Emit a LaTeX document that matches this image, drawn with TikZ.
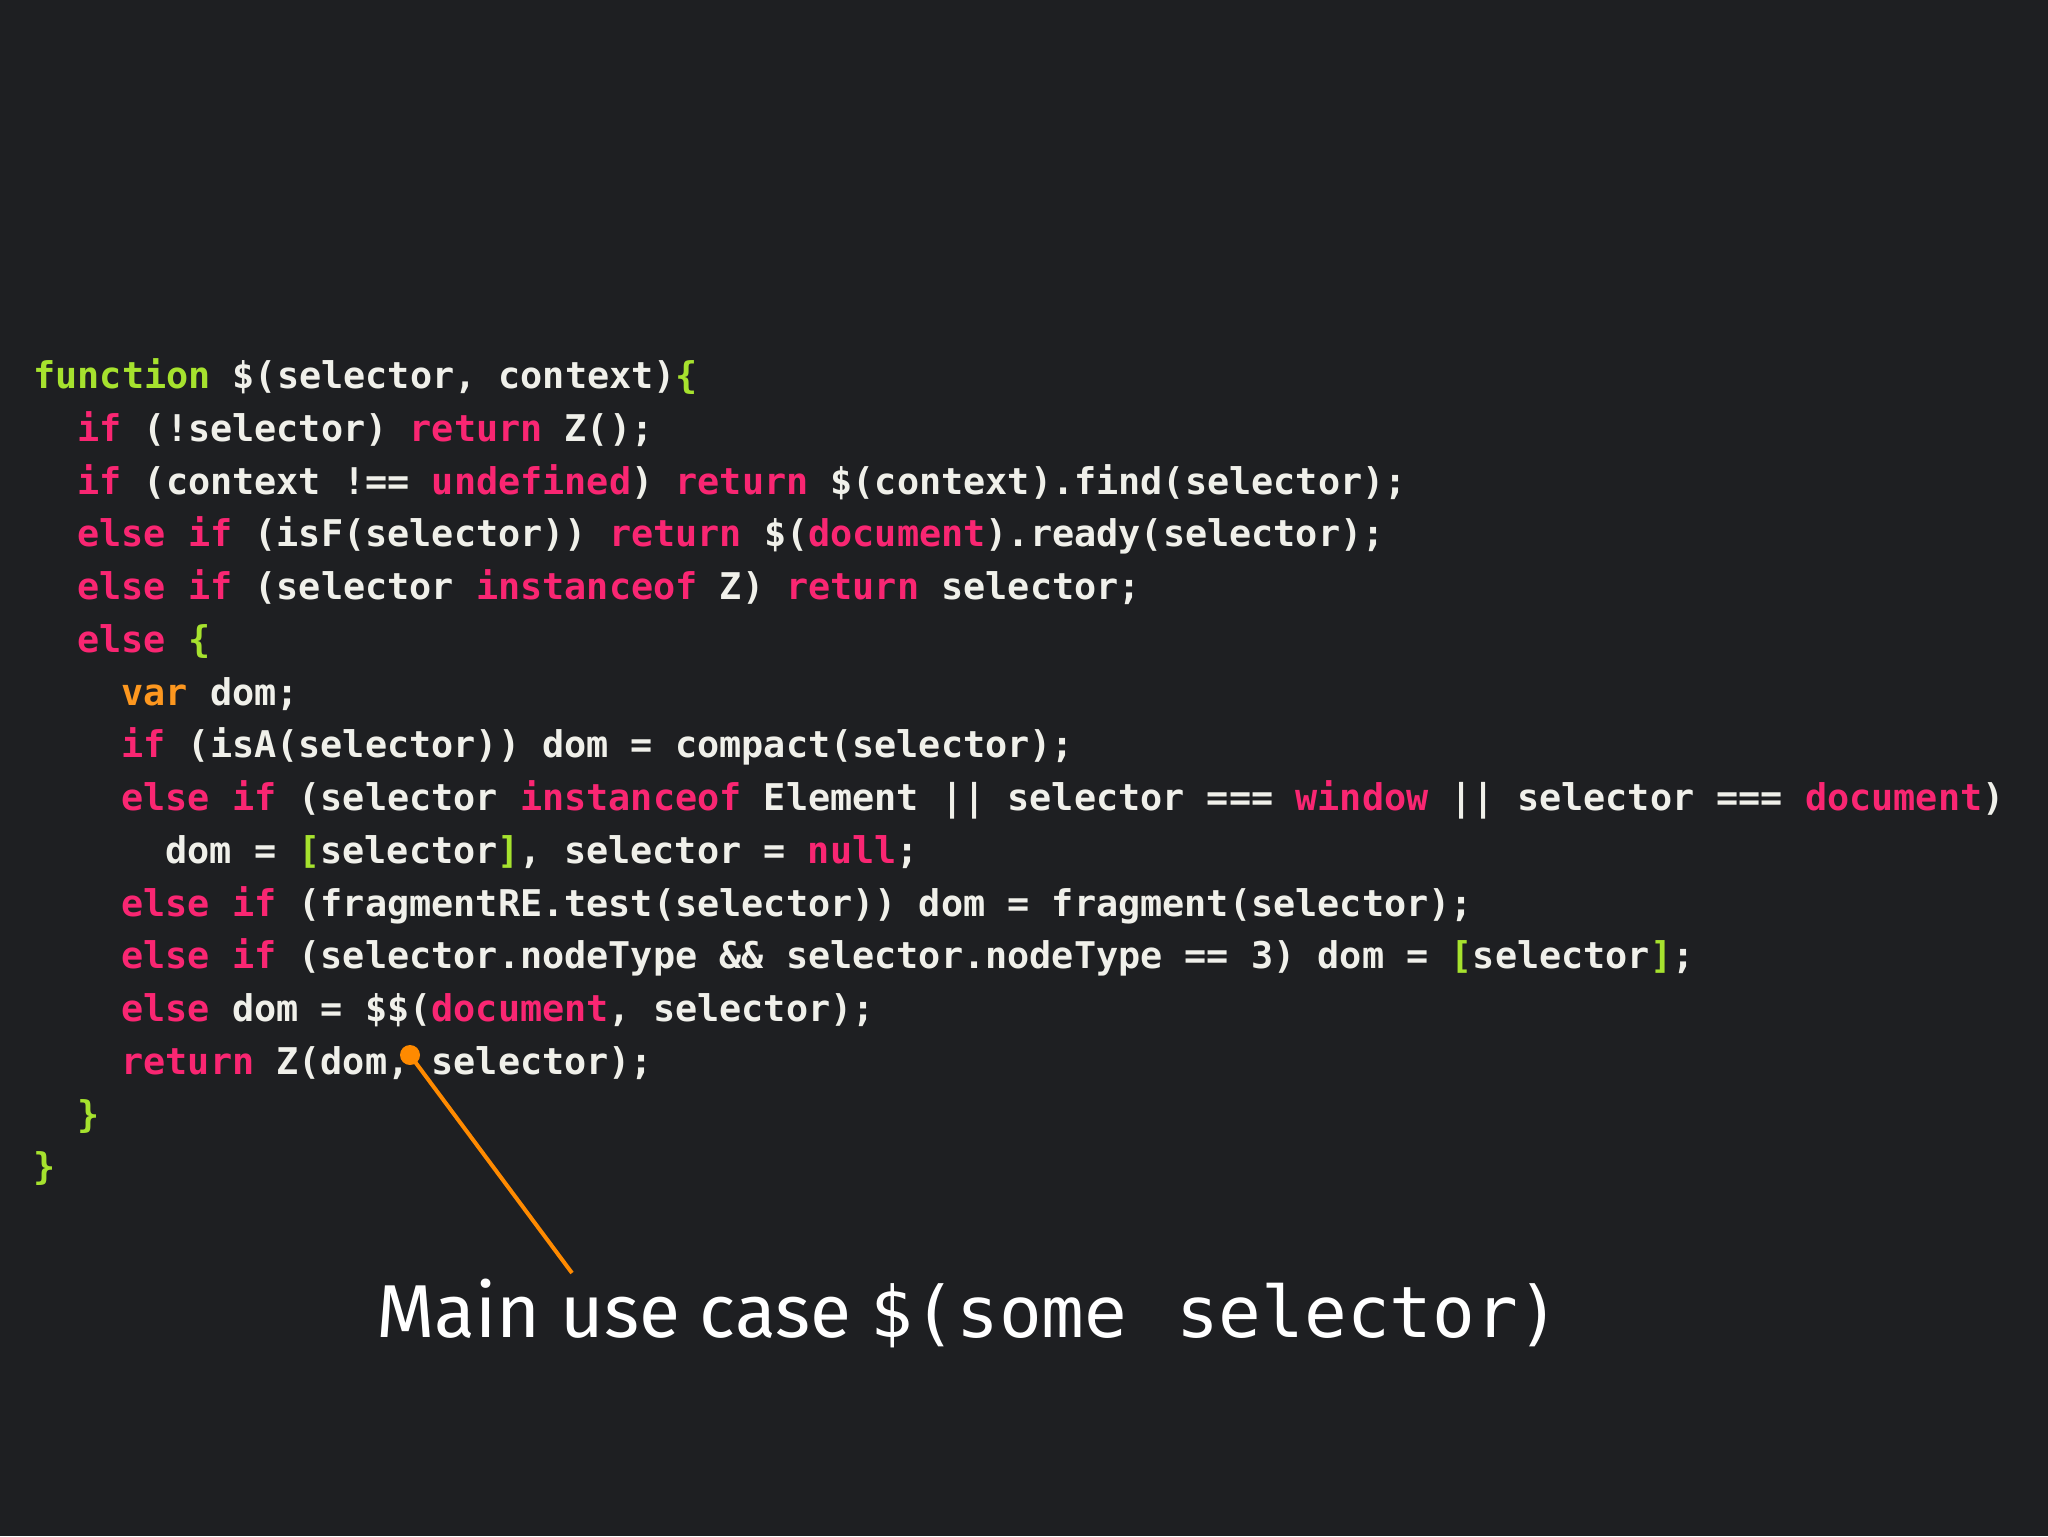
\documentclass[tikz,border=0pt]{standalone}
\usepackage{fontspec}
\setmonofont{DejaVu Sans Mono}
\setmainfont{Fira Sans}
\definecolor{bg}{HTML}{1E1F22}
\definecolor{cg}{HTML}{A6E22E}
\definecolor{cp}{HTML}{F92672}
\definecolor{co}{HTML}{FD971F}
\definecolor{cw}{HTML}{F0F0EA}
\definecolor{arr}{HTML}{FF8A00}
\newcommand{\Kp}[1]{\textcolor{cp}{#1}}
\newcommand{\Kg}[1]{\textcolor{cg}{#1}}
\newcommand{\Ko}[1]{\textcolor{co}{#1}}
\begin{document}
\begin{tikzpicture}[x=0.5pt,y=-0.5pt,
  code/.style={anchor=base west,inner sep=0,text=cw,font=\ttfamily\bfseries\fontsize{18.4}{20}\selectfont}]
\fill[bg] (0,0) rectangle (2048,1536);
\node[code] (l1) at (33,388) {\Kg{function} \$(selector, context)\Kg{\{}};
\node[code] (l2) at (77,441) {\Kp{if} (!selector) \Kp{return} Z();};
\node[code] (l3) at (77,494) {\Kp{if} (context !== \Kp{undefined}) \Kp{return} \$(context).find(selector);};
\node[code] (l4) at (77,546) {\Kp{else} \Kp{if} (isF(selector)) \Kp{return} \$(\Kp{document}).ready(selector);};
\node[code] (l5) at (77,599) {\Kp{else} \Kp{if} (selector \Kp{instanceof} Z) \Kp{return} selector;};
\node[code] (l6) at (77,652) {\Kp{else} \Kg{\{}};
\node[code] (l7) at (121,705) {\Ko{var} dom;};
\node[code] (l8) at (121,757) {\Kp{if} (isA(selector)) dom = compact(selector);};
\node[code] (l9) at (121,810) {\Kp{else} \Kp{if} (selector \Kp{instanceof} Element || selector === \Kp{window} || selector === \Kp{document})};
\node[code] (l10) at (165,863) {dom = \Kg{[}selector\Kg{]}, selector = \Kp{null};};
\node[code] (l11) at (121,916) {\Kp{else} \Kp{if} (fragmentRE.test(selector)) dom = fragment(selector);};
\node[code] (l12) at (121,968) {\Kp{else} \Kp{if} (selector.nodeType \&\& selector.nodeType == 3) dom = \Kg{[}selector\Kg{]};};
\node[code] (l13) at (121,1021) {\Kp{else} dom = \$\$(\Kp{document}, selector);};
\node[code] (l14) at (121,1074) {\Kp{return} Z(dom, selector);};
\node[code] (l15) at (77,1127) {\Kg{\}}};
\node[code] (l16) at (33,1179) {\Kg{\}}};
\node[anchor=base west,inner sep=0,text=white] (cap) at (376,1337)
  {\fontsize{37.5}{40}\selectfont Main use case \texttt{\fontsize{35.5}{38}\selectfont \$(some\hspace{3pt} selector)}};
\node[circle,fill=arr,inner sep=0,minimum size=10pt] (dot) at (410,1055) {};
\coordinate (tail) at (572,1273);
\draw[arr,line width=2pt] (tail) -- (dot.center);
\end{tikzpicture}
\end{document}
